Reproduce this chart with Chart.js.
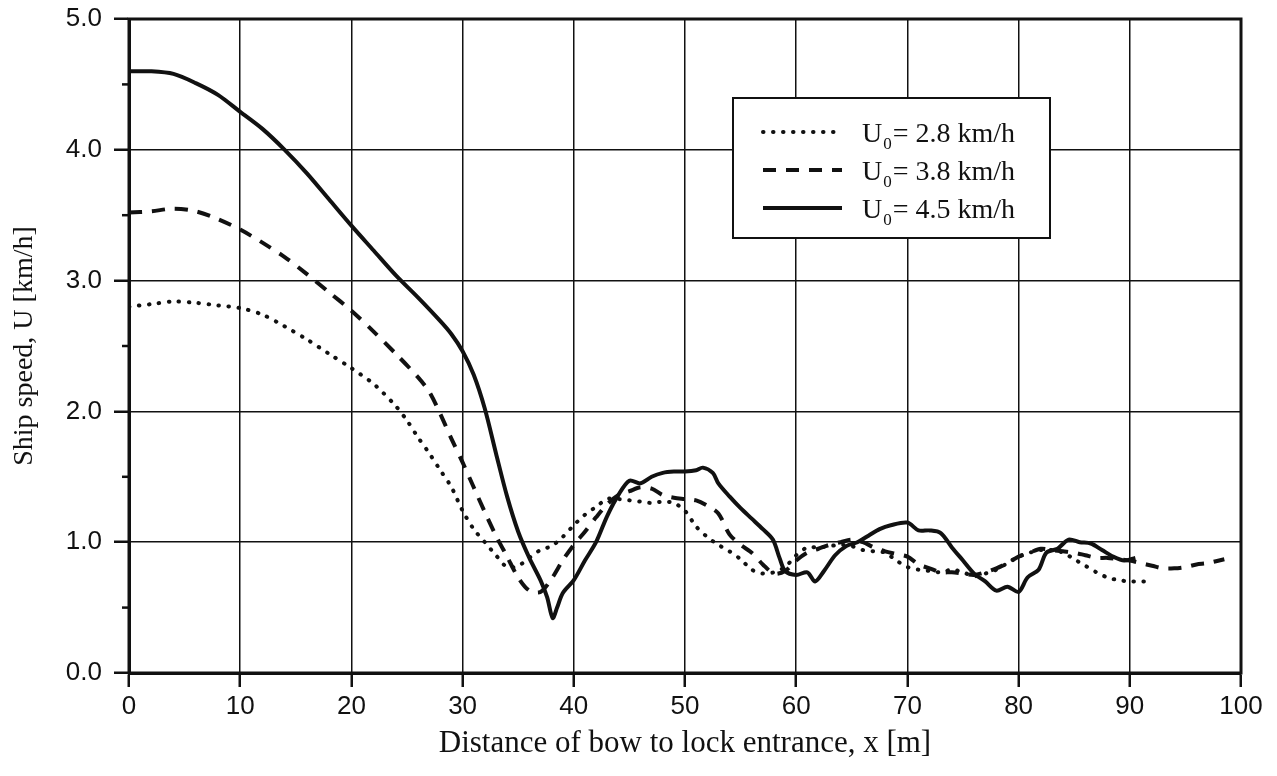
<!DOCTYPE html>
<html>
<head>
<meta charset="utf-8">
<script src="https://cdn.jsdelivr.net/npm/chart.js@4.4.1/dist/chart.umd.min.js"></script>
<style>
  html, body { margin: 0; padding: 0; background: #fff; }
  #wrap { width: 1277px; height: 776px; }
</style>
</head>
<body>
<div id="wrap"><canvas id="speedChart" width="1277" height="776"></canvas></div>
<script>
// series: x in m, U in km/h
const dotX = [0, 2, 4, 6, 8, 10, 12, 14, 16, 18, 20, 22, 24, 25, 26, 27, 28, 29, 30, 31, 32, 33, 34, 35, 36, 37, 38, 39, 40, 41, 42, 43, 44, 45, 46, 47, 48, 49, 50, 51, 52, 53, 54, 55, 56, 57, 58, 59, 60, 61, 62, 63, 64, 65, 66, 67, 68, 69, 70, 71, 72, 73, 74, 75, 76, 77, 78, 79, 80, 81, 82, 83, 84, 85, 86, 87, 88, 89, 90, 91, 92];
const dotY = [2.80, 2.82, 2.84, 2.83, 2.81, 2.79, 2.74, 2.65, 2.55, 2.44, 2.33, 2.21, 2.04, 1.93, 1.80, 1.68, 1.55, 1.42, 1.24, 1.10, 1.00, 0.90, 0.81, 0.82, 0.88, 0.94, 0.97, 1.04, 1.13, 1.21, 1.27, 1.33, 1.33, 1.32, 1.31, 1.30, 1.31, 1.30, 1.24, 1.12, 1.04, 0.98, 0.93, 0.87, 0.79, 0.76, 0.77, 0.81, 0.90, 0.96, 0.96, 0.97, 0.98, 0.97, 0.94, 0.93, 0.92, 0.86, 0.81, 0.79, 0.78, 0.77, 0.79, 0.77, 0.74, 0.76, 0.79, 0.84, 0.89, 0.92, 0.94, 0.94, 0.92, 0.87, 0.82, 0.77, 0.73, 0.71, 0.70, 0.70, 0.70];

const dashX = [0, 2, 4, 6, 8, 10, 12, 14, 16, 18, 20, 22, 24, 26, 27, 28, 29, 30, 31, 32, 33, 34, 35, 36, 37, 38, 39, 40, 41, 42, 43, 44, 45, 46, 47, 48, 49, 50, 51, 52, 53, 54, 55, 56, 57, 58, 59, 60, 61, 62, 63, 64, 65, 66, 67, 68, 69, 70, 71, 72, 73, 74, 75, 76, 77, 78, 79, 80, 81, 82, 83, 84, 85, 86, 87, 88, 89, 90, 91, 92, 93, 94, 95, 96, 97, 98.5];
const dashY = [3.52, 3.53, 3.55, 3.53, 3.47, 3.39, 3.29, 3.18, 3.05, 2.91, 2.77, 2.61, 2.44, 2.26, 2.15, 1.98, 1.79, 1.61, 1.42, 1.23, 1.05, 0.89, 0.73, 0.63, 0.62, 0.72, 0.86, 0.98, 1.08, 1.19, 1.29, 1.36, 1.39, 1.42, 1.41, 1.36, 1.34, 1.33, 1.32, 1.28, 1.22, 1.06, 0.98, 0.92, 0.83, 0.76, 0.78, 0.86, 0.92, 0.95, 0.98, 1.00, 1.02, 1.00, 0.96, 0.93, 0.91, 0.89, 0.83, 0.80, 0.77, 0.77, 0.76, 0.75, 0.77, 0.80, 0.84, 0.89, 0.92, 0.95, 0.94, 0.93, 0.92, 0.90, 0.88, 0.88, 0.87, 0.86, 0.84, 0.82, 0.80, 0.80, 0.81, 0.83, 0.84, 0.87];

const solidX = [0, 2, 4, 6, 8, 10, 12, 14, 16, 18, 20, 22, 24, 26, 28, 29, 30, 31, 32, 33, 34, 35, 36, 37, 37.6, 38.1, 38.5, 39, 40, 41, 42, 43, 44, 45, 46, 47, 48, 49, 50, 51, 51.6, 52.5, 53, 54, 55, 56, 57, 57.9, 58.5, 59, 60, 61, 61.7, 62.5, 63.5, 64.5, 65.5, 66.5, 67.5, 68.5, 70, 71, 72, 73, 74, 75, 76, 77, 78, 79, 80, 80.8, 81.8, 82.5, 83.5, 84.5, 85.5, 86.5, 87.5, 88.5, 89.5, 90.5];
const solidY = [4.60, 4.60, 4.58, 4.51, 4.42, 4.29, 4.16, 4.00, 3.82, 3.62, 3.42, 3.23, 3.04, 2.87, 2.69, 2.59, 2.46, 2.28, 2.02, 1.68, 1.35, 1.08, 0.88, 0.71, 0.58, 0.42, 0.50, 0.61, 0.71, 0.86, 1.00, 1.20, 1.36, 1.47, 1.45, 1.50, 1.53, 1.54, 1.54, 1.55, 1.57, 1.53, 1.45, 1.35, 1.26, 1.18, 1.10, 1.02, 0.88, 0.78, 0.75, 0.77, 0.70, 0.78, 0.90, 0.97, 1.00, 1.05, 1.10, 1.13, 1.15, 1.09, 1.09, 1.07, 0.96, 0.86, 0.76, 0.70, 0.63, 0.66, 0.62, 0.73, 0.79, 0.92, 0.95, 1.02, 1.00, 0.99, 0.94, 0.89, 0.86, 0.88];

const seriesLabels = ['2.8', '3.8', '4.5'];
const xTicks = [0, 10, 20, 30, 40, 50, 60, 70, 80, 90, 100];
const yTicks = [0, 1, 2, 3, 4, 5];
const yMinorTicks = [0.5, 1.5, 2.5, 3.5, 4.5];

const ink = '#111';
const serif = '"Liberation Serif", "Times New Roman", serif';
const sans = '"Liberation Sans", Arial, sans-serif';
const toPts = (xs, ys) => xs.map((x, i) => ({ x: x, y: ys[i] }));

// top/right frame + minor y ticks
const framePlugin = {
  id: 'frame',
  afterDatasetsDraw(chart) {
    const { ctx, chartArea: a, scales } = chart;
    ctx.save();
    ctx.strokeStyle = ink;
    ctx.lineWidth = 3;
    ctx.strokeRect(a.left, a.top, a.right - a.left, a.bottom - a.top);
    ctx.lineWidth = 2.5;
    yMinorTicks.forEach(v => {
      const y = scales.y.getPixelForValue(v);
      ctx.beginPath();
      ctx.moveTo(a.left - 7, y);
      ctx.lineTo(a.left, y);
      ctx.stroke();
    });
    ctx.restore();
  }
};

// boxed legend with subscript U0
const legendPlugin = {
  id: 'boxLegend',
  afterDraw(chart) {
    const ctx = chart.ctx;
    const bx = 733, by = 98, bw = 317, bh = 140;
    ctx.save();
    ctx.fillStyle = '#fff';
    ctx.fillRect(bx, by, bw, bh);
    ctx.strokeStyle = ink;
    ctx.lineWidth = 2;
    ctx.strokeRect(bx, by, bw, bh);
    chart.data.datasets.forEach((ds, i) => {
      const y = 132 + i * 38;
      ctx.strokeStyle = ink;
      ctx.lineWidth = ds.borderWidth;
      ctx.lineCap = ds.borderCapStyle || 'butt';
      ctx.setLineDash(ds.borderDash || []);
      ctx.beginPath();
      ctx.moveTo(763, y);
      ctx.lineTo(842, y);
      ctx.stroke();
      ctx.setLineDash([]);
      ctx.fillStyle = ink;
      ctx.textBaseline = 'alphabetic';
      ctx.font = '28px ' + serif;
      let tx = 862;
      const base = y + 10;
      ctx.fillText('U', tx, base);
      tx += ctx.measureText('U').width;
      ctx.font = '17px ' + serif;
      ctx.fillText('0', tx + 1, base + 7);
      tx += ctx.measureText('0').width + 2;
      ctx.font = '28px ' + serif;
      ctx.fillText('= ' + seriesLabels[i] + ' km/h', tx, base);
    });
    ctx.restore();
  }
};

new Chart(document.getElementById('speedChart'), {
  type: 'line',
  data: {
    datasets: [
      {
        label: 'U0 = 2.8 km/h',
        data: toPts(dotX, dotY),
        borderColor: ink,
        borderWidth: 4,
        borderDash: [0.5, 9.5],
        borderCapStyle: 'round',
        pointRadius: 0,
        tension: 0.3
      },
      {
        label: 'U0 = 3.8 km/h',
        data: toPts(dashX, dashY),
        borderColor: ink,
        borderWidth: 4,
        borderDash: [13, 10],
        pointRadius: 0,
        tension: 0.3
      },
      {
        label: 'U0 = 4.5 km/h',
        data: toPts(solidX, solidY),
        borderColor: ink,
        borderWidth: 4,
        pointRadius: 0,
        tension: 0.3
      }
    ]
  },
  options: {
    responsive: false,
    animation: false,
    layout: { padding: { left: 0, top: 19, right: 36, bottom: 0 } },
    plugins: { legend: { display: false }, tooltip: { enabled: false } },
    scales: {
      x: {
        type: 'linear',
        min: 0,
        max: 100,
        afterBuildTicks: s => { s.ticks = xTicks.map(v => ({ value: v })); },
        afterFit: s => { s.height = 103; },
        grid: { color: ink, lineWidth: 1.5, tickLength: 14, tickWidth: 2.5, tickColor: ink },
        border: { color: ink, width: 3 },
        ticks: {
          color: ink,
          padding: 4,
          maxRotation: 0,
          font: { family: sans, size: 26 }
        },
        title: {
          display: true,
          text: 'Distance of bow to lock entrance, x [m]',
          color: ink,
          padding: { top: 0, bottom: 14 },
          font: { family: serif, size: 31 }
        }
      },
      y: {
        type: 'linear',
        min: 0,
        max: 5,
        afterBuildTicks: s => { s.ticks = yTicks.map(v => ({ value: v })); },
        afterFit: s => { s.width = 129; s.paddingTop = 0; s.paddingBottom = 0; },
        grid: { color: ink, lineWidth: 1.5, tickLength: 15, tickWidth: 2.5, tickColor: ink },
        border: { color: ink, width: 3 },
        ticks: {
          color: ink,
          padding: 12,
          callback: v => v.toFixed(1),
          font: { family: sans, size: 26 }
        },
        title: {
          display: true,
          text: 'Ship speed, U [km/h]',
          color: ink,
          padding: { top: 8, bottom: 0 },
          font: { family: serif, size: 28 }
        }
      }
    }
  },
  plugins: [framePlugin, legendPlugin]
});
</script>
</body>
</html>
